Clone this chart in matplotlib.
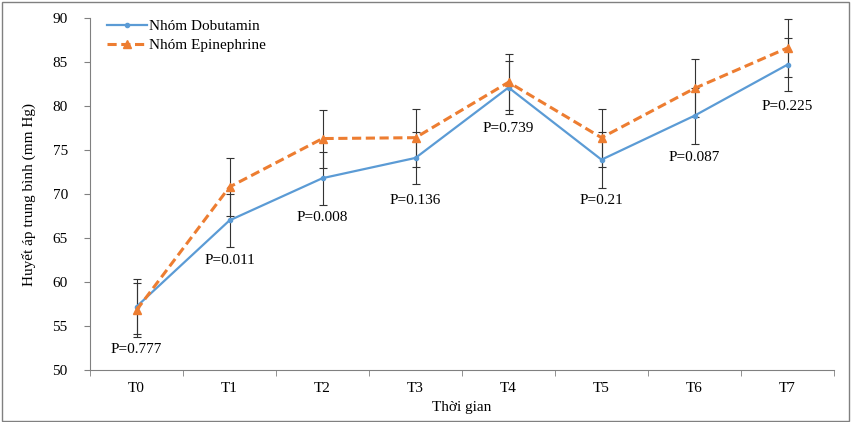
import matplotlib.pyplot as plt
from matplotlib.lines import Line2D
import numpy as np

plt.rcParams['font.family'] = ['Liberation Serif', 'DejaVu Serif']

# data
labels = ['T0', 'T1', 'T2', 'T3', 'T4', 'T5', 'T6', 'T7']
dobutamin = [57.2, 67.0, 71.8, 74.1, 82.1, 73.9, 78.9, 84.7]
dobutamin_err = [3.1, 3.0, 3.0, 3.0, 3.0, 3.2, 3.2, 3.0]
epinephrine = [56.8, 70.8, 76.3, 76.4, 82.7, 76.4, 82.0, 86.6]
epinephrine_err = [3.1, 3.3, 3.3, 3.3, 3.2, 3.3, 3.3, 3.3]
p_values = ['P=0.777', 'P=0.011', 'P=0.008', 'P=0.136', 'P=0.739', 'P=0.21', 'P=0.087', 'P=0.225']
p_y = [52.3, 62.5, 67.3, 69.3, 77.5, 69.3, 74.2, 80.0]

x = np.arange(len(labels))
blue = '#5B9BD5'
orange = '#ED7D31'

fig = plt.figure(figsize=(8.51, 4.22), dpi=100)
ax = fig.add_axes([90 / 851, 1 - 370 / 422, 744 / 851, 352 / 422])

ax.errorbar(x, dobutamin, yerr=dobutamin_err, color=blue, lw=1.6,
            marker='o', ms=3, ecolor='#333333', elinewidth=0.8, capsize=3,
            capthick=0.8, zorder=3)
ax.errorbar(x, epinephrine, yerr=epinephrine_err, color=orange, lw=2.2,
            ls='--', dashes=(3, 1.5), marker='^', ms=6, ecolor='#333333',
            elinewidth=0.8, capsize=3, capthick=0.8, zorder=3)

for xi, yi, t in zip(x, p_y, p_values):
    ax.text(xi, yi, t, ha='center', va='center', fontsize=11)

ax.set_xlim(-0.5, len(labels) - 0.5)
ax.set_ylim(50, 90)
ax.set_yticks(range(50, 91, 5))
ax.set_xticks(x)
ax.set_xticklabels(labels, fontsize=11)
ax.set_xticks(np.arange(-0.5, len(labels), 1), minor=True)
ax.tick_params(axis='x', which='major', length=0, pad=9)
ax.tick_params(axis='x', which='minor', length=4, color='#808080')
ax.tick_params(axis='y', length=4, color='#808080', labelsize=11, pad=12)
for s in ['top', 'right']:
    ax.spines[s].set_visible(False)
for s in ['left', 'bottom']:
    ax.spines[s].set_color('#808080')

ax.set_xlabel('Thời gian', fontsize=11, labelpad=4)
ax.set_ylabel('Huyết áp trung bình (mm Hg)', fontsize=11, labelpad=12)

handles = [
    Line2D([], [], color=blue, lw=1.6, marker='o', ms=3),
    Line2D([], [], color=orange, lw=2.2, ls='--', dashes=(3, 1.5), marker='^', ms=6),
]
ax.legend(handles, ['Nhóm Dobutamin', 'Nhóm Epinephrine'], loc='upper left',
          bbox_to_anchor=(0.005, 1.035), frameon=False, fontsize=11,
          handlelength=2.6, handletextpad=0.1, labelspacing=0.35)

fig.patches.append(plt.Rectangle((0.002, 0.003), 0.996, 0.992, transform=fig.transFigure,
                                 fill=False, edgecolor='#808080', lw=1))

fig.savefig('out.png', dpi=100)
